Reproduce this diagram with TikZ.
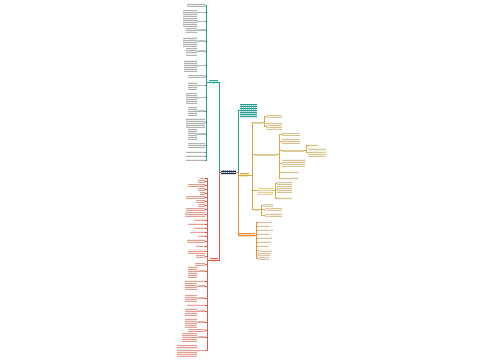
\documentclass[tikz,border=0pt]{standalone}
\usetikzlibrary{fit,patterns.meta}
\definecolor{mapTeal}{RGB}{38,160,145}
\definecolor{rootNavy}{RGB}{25,45,70}
\definecolor{mapGold}{RGB}{212,168,60}
\definecolor{mapOrange}{RGB}{238,140,55}
\definecolor{mapRed}{RGB}{210,95,75}
\begin{document}
\begin{tikzpicture}[x=0.02cm,y=-0.02cm,
  blk/.style={inner sep=0pt, preaction={fill=#1!12},
    pattern={Lines[angle=0,distance=1.15pt,line width=0.45pt]}, pattern color=#1!60},
  lbl/.style={inner sep=0pt, fill=#1!55},
  hub/.style={inner sep=0pt, preaction={fill=#1},
    pattern={Lines[angle=0,distance=1.15pt,line width=0.45pt]}, pattern color=white!80!#1},
  con/.style={draw=#1, line width=0.5pt}]
\useasboundingbox[fill=white] (0,0) rectangle (500,360);

% Root
\node[hub=rootNavy, fit={(221,170) (236,174)}] (root) {};

% Main branches
\node[hub=mapTeal, fit={(209,80) (218,84)}] (tnode) {};
\node[hub=mapTeal, fit={(240,104) (257,117)}] (note) {};
\node[hub=mapGold, fit={(240,173) (249,177)}] (gnode) {};
\node[hub=mapOrange, fit={(239,233) (255,237)}] (onode) {};
\node[hub=mapRed, fit={(210,258) (218,262)}] (rnode) {};

\draw[con=mapTeal] (root.west) -- ++(-1.5,0) |- (tnode.east);
\draw[con=mapTeal] (root.east) -- ++(2,0) |- (note.west);
\draw[con=mapGold] (root.east) -- ++(2,0) |- (gnode.west);
\draw[con=mapOrange] (root.east) -- ++(2,0) |- (onode.west);
\draw[con=mapRed] (root.west) -- ++(-1.5,0) |- (rnode.east);

% Teal branch, plain entries
\foreach \n/\xa/\ya/\yb in {1/187/3/7, 8/188/75/78, 12/186/118/127, 14/188/143/148,
    15/186/151/153, 16/186/155/157, 17/186/159/161}
  {\node[blk=gray, fit={(\xa,\ya) (205,\yb)}] (tl\n) {};
   \draw[con=mapTeal] (tnode.west) -- ++(-2,0) |- (tl\n.east);}
% Teal branch, entries with a label
\foreach \n/\xa/\ya/\yb in {2/183/10/16, 3/183/18/26, 4/186/28/33, 5/183/37/46,
    6/186/48/55, 7/184/60/72, 9/188/82/90, 10/186/93/103, 11/188/107/116, 13/188/129/140}
  {\node[blk=gray, fit={(\xa,\ya) (197,\yb)}] (tl\n) {};
   \node[lbl=gray, fit={(199,{(\ya+\yb)/2-1}) (205,{(\ya+\yb)/2+0.2})}] (tk\n) {};
   \draw[con=mapTeal] (tnode.west) -- ++(-2,0) |- (tk\n.east);
   \draw[con=mapTeal] (tk\n.west) -- (tl\n.east);}

% Gold branch
\node[lbl=mapGold!80!gray, fit={(255,122) (262,123.5)}] (ga) {};
\node[blk=mapGold!70!gray, fit={(266,115) (282,117.5)}] (ga1) {};
\node[blk=mapGold!70!gray, fit={(266,122) (282,130)}] (ga2) {};
\node[lbl=mapGold!80!gray, fit={(255,154) (276,155.5)}] (gb) {};
\node[blk=mapGold!70!gray, fit={(282,133) (300,135.5)}] (gb1) {};
\node[blk=mapGold!70!gray, fit={(282,138) (300,144)}] (gb2) {};
\node[lbl=mapGold!80!gray, fit={(282,150) (304,151.5)}] (gb3) {};
\node[blk=mapGold!70!gray, fit={(282,159) (305,167)}] (gb4) {};
\node[blk=mapGold!70!gray, fit={(282,171) (298,173.5)}] (gb5) {};
\node[blk=mapGold!70!gray, fit={(282,177) (298,179.5)}] (gb6) {};
\node[blk=mapGold!70!gray, fit={(308,144) (318,146.5)}] (gc1) {};
\node[blk=mapGold!70!gray, fit={(308,148) (326,157)}] (gc2) {};
\node[blk=mapGold, fit={(258,187) (273,194)}] (gd) {};
\node[blk=mapGold!70!gray, fit={(277,182) (292,184.5)}] (gd1) {};
\node[blk=mapGold!70!gray, fit={(277,186) (292,192)}] (gd2) {};
\node[blk=mapGold!70!gray, fit={(277,197) (292,199.5)}] (gd3) {};
\node[lbl=mapGold!80!gray, fit={(255,209) (259,210.5)}] (ge) {};
\node[blk=mapGold!70!gray, fit={(263,204) (273,206.5)}] (ge1) {};
\node[blk=mapGold!70!gray, fit={(265,207.5) (282,211)}] (ge2) {};
\node[blk=mapGold!70!gray, fit={(265,213) (282,217)}] (ge3) {};

\foreach \c in {ga,gb,gd,ge}
  \draw[con=mapGold] (gnode.east) -- ++(3,0) |- (\c.west);
\foreach \c in {ga1,ga2}
  \draw[con=mapGold] (ga.east) -- ++(2,0) |- (\c.west);
\foreach \c in {gb1,gb2,gb3,gb4,gb5,gb6}
  \draw[con=mapGold] (gb.east) -- ++(3,0) |- (\c.west);
\foreach \c in {gc1,gc2}
  \draw[con=mapGold] (gb3.east) -- ++(2,0) |- (\c.west);
\foreach \c in {gd1,gd2,gd3}
  \draw[con=mapGold] (gd.east) -- ++(2,0) |- (\c.west);
\foreach \c in {ge1,ge2,ge3}
  \draw[con=mapGold] (ge.east) -- ++(2,0) |- (\c.west);

% Orange branch
\foreach \i/\w in {0/14,1/12,2/15,3/11,4/14,5/13,6/10,7/14,8/12,9/11}
  {\node[blk=mapOrange!60!gray, fit={(258,221+4*\i) (258+\w,223+4*\i)}] (ol\i) {};
   \draw[con=mapOrange] (onode.east) -- ++(1.5,0) |- (ol\i.west);}

% Red branch, plain entries
\foreach \n/\xa/\ya/\yb in {1/200/177/179, 2/198/180/182, 3/188/184/186, 4/198/188/190,
    5/200/192/194, 6/186/196/198, 7/196/200/202, 8/198/204/206, 9/186/208/210,
    10/185/212/217, 11/194/219/221, 12/188/223/225, 13/194/227/229, 14/190/231/233,
    15/198/235/237, 16/187/239/243, 17/196/245/247, 18/188/249/253, 19/196/255/257,
    20/195/263/265, 21/185/280/282, 22/187/304/306, 23/188/329/331}
  {\node[blk=mapRed, fit={(\xa,\ya) (205,\yb)}] (rl\n) {};
   \draw[con=mapRed] (rnode.west) -- ++(-2.5,0) |- (rl\n.east);}
% Red branch, entries with a label
\foreach \n/\xa/\ya/\yb in {24/188/266/277, 25/185/283/290, 26/185/295/302,
    27/185/308/315, 28/185/318/327, 29/182/333/342, 30/177/345/357}
  {\node[blk=mapRed, fit={(\xa,\ya) (197,\yb)}] (rl\n) {};
   \node[lbl=mapRed, fit={(199,{(\ya+\yb)/2-1}) (205,{(\ya+\yb)/2+0.2})}] (rk\n) {};
   \draw[con=mapRed] (rnode.west) -- ++(-2.5,0) |- (rk\n.east);
   \draw[con=mapRed] (rk\n.west) -- (rl\n.east);}
\end{tikzpicture}
\end{document}
